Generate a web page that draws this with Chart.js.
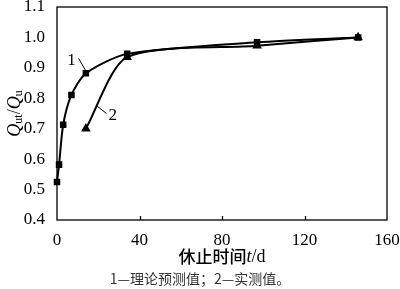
<!DOCTYPE html>
<html>
<head>
<meta charset="utf-8">
<script src="https://cdn.jsdelivr.net/npm/chart.js@4/dist/chart.umd.min.js"></script>
<style>
  html, body { margin: 0; padding: 0; background: #fff; }
  #wrap { width: 400px; height: 289px; position: relative; }
</style>
</head>
<body>
<div id="wrap"><canvas id="c"></canvas></div>
<script>
// rest time t/d and Qut/Qu ratio
const days1   = [0, 1, 3, 7, 14, 34, 97, 146];      // 1 - theoretical prediction
const ratio1  = [0.525, 0.582, 0.713, 0.811, 0.882, 0.946, 0.984, 1.0];
const days2   = [14, 34, 97, 146];                   // 2 - measured
const ratio2  = [0.70, 0.935, 0.973, 1.0];
const xTicks  = [0, 40, 80, 120, 160];
const yTicks  = [0.4, 0.5, 0.6, 0.7, 0.8, 0.9, 1.0, 1.1];

const serif = 'Liberation Serif';
const cjk = 'Noto Sans CJK SC';

Chart.defaults.font.family = serif;

const toXY = (xs, ys) => xs.map((x, i) => ({ x, y: ys[i] }));

// box, inward ticks, titles and the 1 / 2 labels
const decor = {
    id: 'decor',
    afterDraw(chart) {
        const { ctx, chartArea: a, scales: { x, y } } = chart;
        ctx.save();
        ctx.strokeStyle = '#000';
        ctx.lineWidth = 1.3;
        ctx.strokeRect(a.left, a.top, a.right - a.left, a.bottom - a.top);

        // inward x ticks
        xTicks.slice(1, -1).forEach(v => {
            const px = Math.round(x.getPixelForValue(v)) + 0.5;
            ctx.beginPath();
            ctx.moveTo(px, a.bottom);
            ctx.lineTo(px, a.bottom - 4);
            ctx.stroke();
        });

        // curve labels with leader lines
        ctx.lineWidth = 1;
        ctx.fillStyle = '#000';
        ctx.font = '17px "' + serif + '"';
        ctx.textAlign = 'center';
        ctx.textBaseline = 'middle';
        const lead = (x0, y0, x1, y1) => {
            ctx.beginPath();
            ctx.moveTo(x.getPixelForValue(x0), y.getPixelForValue(y0));
            ctx.lineTo(x.getPixelForValue(x1), y.getPixelForValue(y1));
            ctx.stroke();
        };
        ctx.fillText('1', x.getPixelForValue(7), y.getPixelForValue(0.925));
        lead(10.5, 0.931, 13.8, 0.892);
        ctx.fillText('2', x.getPixelForValue(27), y.getPixelForValue(0.744));
        lead(19.1, 0.776, 24, 0.75);

        // y title: Qut/Qu, rotated
        ctx.save();
        ctx.translate(15, (a.top + a.bottom) / 2);
        ctx.rotate(-Math.PI / 2);
        const parts = [
            ['Q', 'italic 18px "' + serif + '"', 0],
            ['ut', '12px "' + serif + '"', 4],
            ['/', '18px "' + serif + '"', 0],
            ['Q', 'italic 18px "' + serif + '"', 0],
            ['u', '12px "' + serif + '"', 4],
        ];
        let w = 0;
        parts.forEach(p => { ctx.font = p[1]; w += ctx.measureText(p[0]).width; });
        let cx = -w / 2;
        ctx.textAlign = 'left';
        parts.forEach(p => {
            ctx.font = p[1];
            ctx.fillText(p[0], cx, p[2]);
            cx += ctx.measureText(p[0]).width;
        });
        ctx.restore();

        // x title: 休止时间t/d
        const xt = [
            ['休止时间', '500 17px "' + cjk + '"'],
            ['t', 'italic 18px "' + serif + '"'],
            ['/d', '18px "' + serif + '"'],
        ];
        let tw = 0;
        xt.forEach(p => { ctx.font = p[1]; tw += ctx.measureText(p[0]).width; });
        let tx = (a.left + a.right) / 2 - tw / 2;
        ctx.textAlign = 'left';
        xt.forEach(p => {
            ctx.font = p[1];
            ctx.fillText(p[0], tx, 257);
            tx += ctx.measureText(p[0]).width;
        });

        // caption
        ctx.fillStyle = '#333';
        ctx.font = '14px "' + cjk + '"';
        ctx.textAlign = 'center';
        ctx.fillText('1—理论预测值；2—实测值。', 200, 279);
        ctx.restore();
    }
};

new Chart(document.getElementById('c'), {
    type: 'line',
    data: {
        datasets: [
            {
                data: toXY(days1, ratio1),
                borderColor: '#000',
                backgroundColor: '#000',
                borderWidth: 2,
                pointStyle: 'rect',
                pointRadius: 3.2,
                tension: 0.25,
                clip: false,
            },
            {
                data: toXY(days2, ratio2),
                borderColor: '#000',
                backgroundColor: '#000',
                borderWidth: 2,
                pointStyle: 'triangle',
                pointRadius: 3.6,
                tension: 0.25,
                clip: false,
            },
        ],
    },
    options: {
        responsive: true,
        maintainAspectRatio: false,
        animation: false,
        layout: { padding: { top: 7, right: 13, left: 0, bottom: 0 } },
        plugins: { legend: { display: false }, tooltip: { enabled: false } },
        scales: {
            x: {
                type: 'linear',
                min: 0,
                max: 160,
                afterBuildTicks: s => { s.ticks = xTicks.map(v => ({ value: v })); },
                afterFit: s => { s.height = 69; s.paddingLeft = 0; s.paddingRight = 0; },
                grid: { display: false },
                border: { display: false },
                ticks: { color: '#000', padding: 2, font: { family: serif, size: 17 }, maxRotation: 0 },
            },
            y: {
                min: 0.4,
                max: 1.1,
                afterBuildTicks: s => { s.ticks = yTicks.map(v => ({ value: v })); },
                afterFit: s => { s.width = 57; s.paddingTop = 0; s.paddingBottom = 0; },
                grid: { display: false },
                border: { display: false },
                ticks: {
                    color: '#000',
                    padding: 4,
                    font: { family: serif, size: 17 },
                    callback: v => Number(v).toFixed(1),
                },
            },
        },
    },
    plugins: [decor],
});
</script>
</body>
</html>
